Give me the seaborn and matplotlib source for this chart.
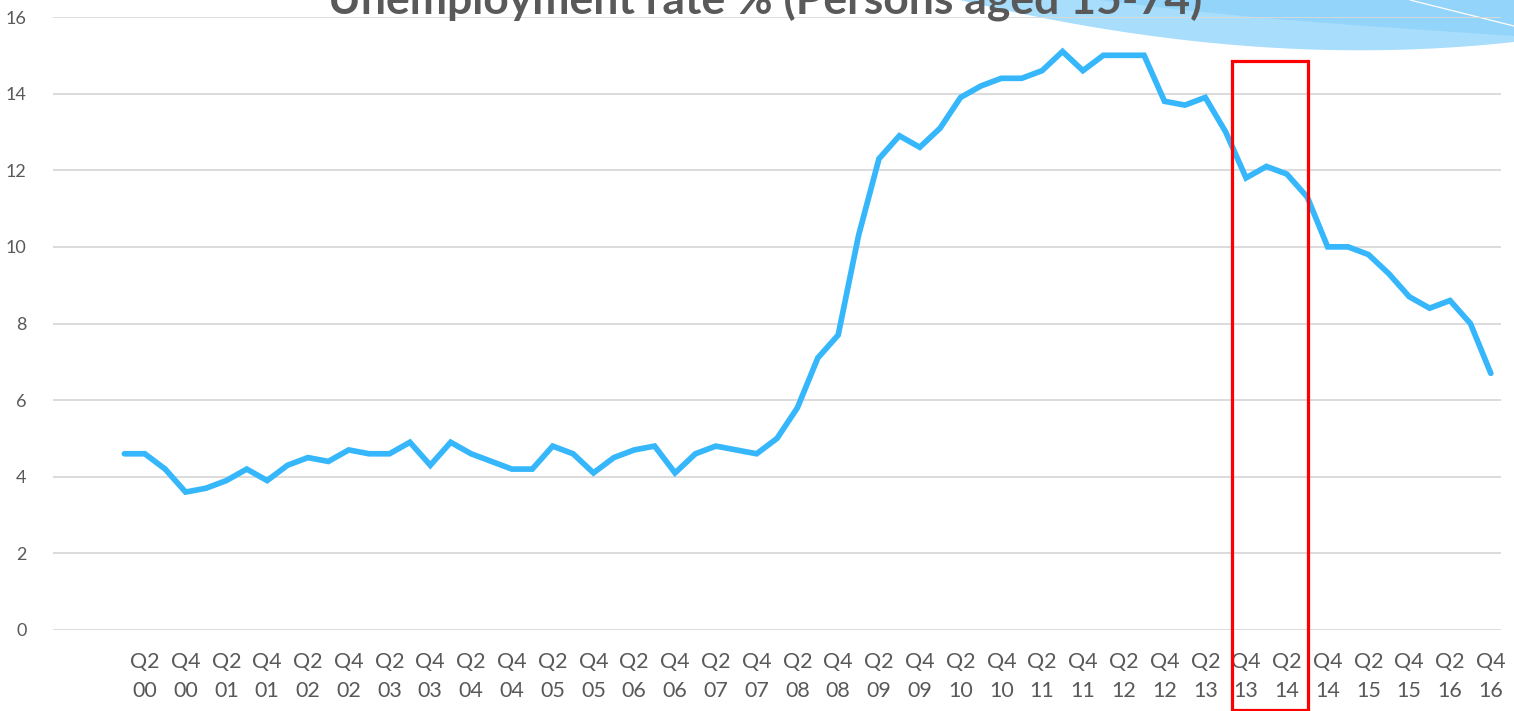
import matplotlib
matplotlib.use('Agg')
import matplotlib.pyplot as plt
import seaborn as sns
import numpy as np
import pandas as pd
from matplotlib.patches import Rectangle, Polygon

# ---------------- data ----------------
years = ['00', '01', '02', '03', '04', '05', '06', '07', '08',
         '09', '10', '11', '12', '13', '14', '15', '16']
quarter_names = ['Q1', 'Q2', 'Q3', 'Q4']
rate = [4.6, 4.6, 4.2, 3.6,   3.7, 3.9, 4.2, 3.9,   4.3, 4.5, 4.4, 4.7,
        4.6, 4.6, 4.9, 4.3,   4.9, 4.6, 4.4, 4.2,   4.2, 4.8, 4.6, 4.1,
        4.5, 4.7, 4.8, 4.1,   4.6, 4.8, 4.7, 4.6,   5.0, 5.8, 7.1, 7.7,
        10.3, 12.3, 12.9, 12.6, 13.1, 13.9, 14.2, 14.4, 14.4, 14.6, 15.1, 14.6,
        15.0, 15.0, 15.0, 13.8, 13.7, 13.9, 13.0, 11.8, 12.1, 11.9, 11.3, 10.0,
        10.0, 9.8, 9.3, 8.7,  8.4, 8.6, 8.0, 6.7]
labelled_quarters = ['Q2', 'Q4']
y_ticks = [0, 2, 4, 6, 8, 10, 12, 14, 16]
title = 'Unemployment rate % (Persons aged 15-74)'
highlight = ['Q4 13', 'Q2 14']

periods = [f'{q} {y}' for y in years for q in quarter_names]
df = pd.DataFrame({'pos': np.arange(len(periods)), 'period': periods, 'rate': rate})

# ---------------- style ----------------
sns.set_theme(style='white')
plt.rcParams['font.family'] = ['Lato', 'DejaVu Sans']
W, H = 1514, 711
fig = plt.figure(figsize=(W / 100, H / 100), dpi=100)
fig.patch.set_facecolor('white')

# decorative swoosh (background, pixel coordinates)
bg = fig.add_axes([0, 0, 1, 1], zorder=0)
bg.set_xlim(0, W)
bg.set_ylim(H, 0)
bg.axis('off')
t = np.linspace(0, 1, 120)
def bez(p0, p1, p2, p3):
    b = ((1 - t) ** 3)[:, None] * np.array(p0) + (3 * (1 - t) ** 2 * t)[:, None] * np.array(p1) \
        + (3 * (1 - t) * t ** 2)[:, None] * np.array(p2) + (t ** 3)[:, None] * np.array(p3)
    return b
edge = bez((960, 0), (1150, 45), (1330, 62), (1514, 42))
bg.add_patch(Polygon(np.vstack([edge, [[1514, 0]]]), closed=True, color='#A8DDFB', lw=0))
edge2 = bez((1100, 0), (1250, 20), (1400, 28), (1514, 36))
bg.add_patch(Polygon(np.vstack([edge2, [[1514, 0]]]), closed=True, color='#93D4FA', lw=0))
bg.plot([1410, 1514], [0, 26], color='white', lw=0.9)

# main axes
ax = fig.add_axes([53 / W, 81 / H, 1448 / W, 613 / H], zorder=1)
ax.patch.set_alpha(0)

sns.lineplot(data=df, x='pos', y='rate', ax=ax, color='#36B7FC', linewidth=4.1,
             solid_capstyle='round', solid_joinstyle='miter', zorder=3)

ax.set_xlim(-3.5, len(periods) - 0.5)
ax.set_ylim(0, 16)
ax.set_yticks(y_ticks)
ax.set_yticklabels([str(v) for v in y_ticks])
tick_pos = [i for i, p in enumerate(periods) if p.split()[0] in labelled_quarters]
ax.set_xticks(tick_pos)
ax.set_xticklabels([periods[i].replace(' ', '\n') for i in tick_pos], linespacing=1.55)
ax.tick_params(axis='x', length=0, pad=16, labelsize=15.5, labelcolor='#595959')
ax.tick_params(axis='y', length=0, pad=19, labelsize=13, labelcolor='#595959')
ax.yaxis.grid(True, color='#D9D9D9', linewidth=1.3, zorder=0)
ax.xaxis.grid(False)
for s in ax.spines.values():
    s.set_visible(False)
ax.set_xlabel('')
ax.set_ylabel('')

# highlight box
x0 = periods.index(highlight[0]) - 0.68
x1 = periods.index(highlight[1]) + 1.05
ax.add_patch(Rectangle((x0, -2.09), x1 - x0, 14.85 + 2.09, fill=False,
                       edgecolor='#FF0000', linewidth=2.3, clip_on=False, zorder=4))

# title (partly cut off at top, as in the reference)
fig.text(765 / W, 1 - 14 / H, title, ha='center', va='baseline', fontsize=32,
         fontweight='bold', color='#595959', zorder=5)

fig.savefig('out.png', dpi=100)
